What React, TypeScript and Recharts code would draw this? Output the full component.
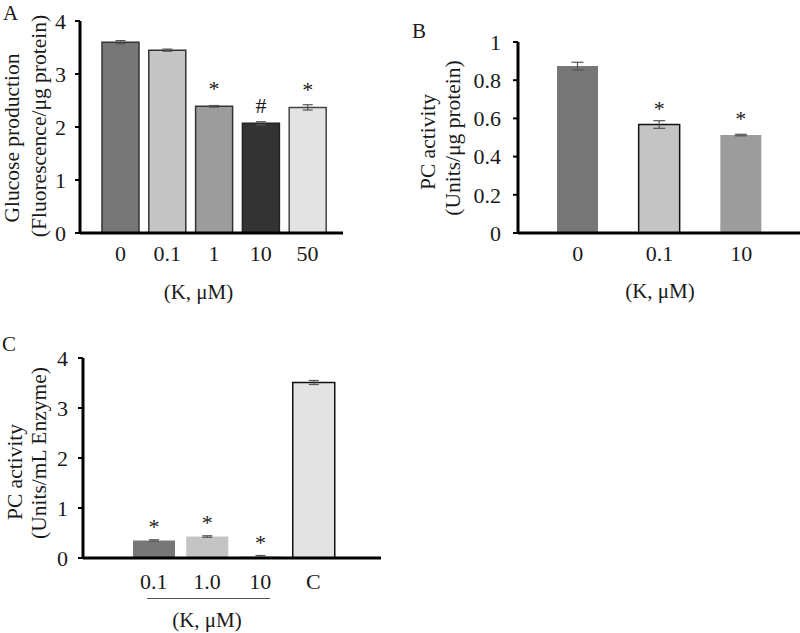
import React from 'react';
import { BarChart, Bar, XAxis, YAxis, ErrorBar, Cell, LabelList, Label } from 'recharts';

// panel A: glucose production
const glucoseDoses = ['0', '0.1', '1', '10', '50'];
const glucoseValues = [3.6, 3.45, 2.39, 2.07, 2.37];
const glucoseErrors = [0.03, 0.02, 0.015, 0.03, 0.05];
const glucoseMarks = ['', '', '*', '#', '*'];

// panel B: PC activity per protein
const pcDoses = ['0', '0.1', '10'];
const pcValues = [0.874, 0.568, 0.513];
const pcErrors = [0.02, 0.02, 0.004];
const pcMarks = ['', '*', '*'];

// panel C: PC activity per mL enzyme
const enzymeDoses = ['0.1', '1.0', '10', 'C'];
const enzymeValues = [0.35, 0.43, 0.03, 3.51];
const enzymeErrors = [0.015, 0.015, 0.02, 0.04];
const enzymeMarks = ['*', '*', '*', ''];

const FONT = '"Liberation Serif", "Times New Roman", serif';
const INK = '#1a1a1a';

const build = (cats: string[], vals: number[], errs: number[], marks: string[]) =>
  cats.map((c, i) => ({ name: c, value: vals[i], err: errs[i], mark: marks[i] }));

const dataA = build(glucoseDoses, glucoseValues, glucoseErrors, glucoseMarks);
const dataB = build(pcDoses, pcValues, pcErrors, pcMarks);
const dataC = build(enzymeDoses, enzymeValues, enzymeErrors, enzymeMarks);

const fillsA = ['#777777', '#c4c4c4', '#9c9c9c', '#333333', '#e3e3e3'];
const strokesA = ['#333', '#333', '#333', '#222', '#444'];
const fillsB = ['#777777', '#c4c4c4', '#9c9c9c'];
const strokesB = ['none', '#111', 'none'];
const fillsC = ['#777777', '#c4c4c4', '#b0b0b0', '#e3e3e3'];
const strokesC = ['none', 'none', 'none', '#111'];

const tickStyle = { fontFamily: FONT, fontSize: 22, fill: INK };
const markStyle = { fontFamily: FONT, fontSize: 22, fill: INK };

// two rotated lines for the y axis title
const yTitle = (l1: string, l2: string, x1: number, y1: number, x2: number, y2: number) => () =>
  (
    <g fontFamily={FONT} fontSize={21.5} fill={INK}>
      <text x={x1} y={y1} transform={`rotate(-90 ${x1} ${y1})`} textAnchor="middle" dominantBaseline="central">
        {l1}
      </text>
      <text x={x2} y={y2} transform={`rotate(-90 ${x2} ${y2})`} textAnchor="middle" dominantBaseline="central">
        {l2}
      </text>
    </g>
  );

const xTitle = (dx: number, dy: number) => (props: any) => {
  const vb = props.viewBox || {};
  return (
    <text
      x={vb.x + vb.width / 2 + dx}
      y={vb.y + dy}
      textAnchor="middle"
      dominantBaseline="central"
      fontFamily={FONT}
      fontSize={21}
      fill={INK}
    >
      (K, μM)
    </text>
  );
};

const letter = (t: string, left: number, top: number) => (
  <div style={{ position: 'absolute', left, top, fontFamily: FONT, fontSize: 21, color: INK, lineHeight: '21px' }}>
    {t}
  </div>
);

export default function App() {
  return (
    <div style={{ position: 'absolute', left: 0, top: 0, width: 800, height: 633, background: '#fff', overflow: 'hidden' }}>
      {letter('A', 3, 3)}
      {letter('B', 412, 21)}
      {letter('C', 2, 334)}

      <div style={{ position: 'absolute', left: 0, top: 0 }}>
        <BarChart width={360} height={320} data={dataA} margin={{ top: 21, right: 17, left: 0, bottom: 57 }}>
          <XAxis
            dataKey="name"
            axisLine={{ stroke: '#000', strokeWidth: 3 }}
            tickLine={false}
            tickSize={0}
            tickMargin={12}
            tick={tickStyle}
            height={30}
            padding={{ left: 17, right: 12 }}
          >
            <Label content={xTitle(-13, 59)} />
          </XAxis>
          <YAxis
            domain={[0, 4]}
            ticks={[0, 1, 2, 3, 4]}
            width={80}
            axisLine={{ stroke: '#000', strokeWidth: 3 }}
            tickLine={{ stroke: '#000', strokeWidth: 2 }}
            tickSize={5}
            tickMargin={9}
            tick={tickStyle}
          >
            <Label content={yTitle('Glucose production', '(Fluorescence/μg protein)', 12, 138, 39, 126)} />
          </YAxis>
          <Bar dataKey="value" barSize={37} isAnimationActive={false} strokeWidth={1.5}>
            {dataA.map((d, i) => (
              <Cell key={d.name} fill={fillsA[i]} stroke={strokesA[i]} />
            ))}
            <ErrorBar dataKey="err" width={5} stroke="#555" strokeWidth={1.2} />
            <LabelList dataKey="mark" position="top" offset={10} style={markStyle} />
          </Bar>
        </BarChart>
      </div>

      <div style={{ position: 'absolute', left: 400, top: 0 }}>
        <BarChart width={400} height={320} data={dataB} margin={{ top: 42, right: 0, left: 0, bottom: 57 }}>
          <XAxis
            dataKey="name"
            axisLine={{ stroke: '#000', strokeWidth: 3 }}
            tickLine={false}
            tickSize={0}
            tickMargin={12}
            tick={tickStyle}
            height={30}
            padding={{ left: 19, right: 18 }}
          >
            <Label content={xTitle(1, 58)} />
          </XAxis>
          <YAxis
            domain={[0, 1]}
            ticks={[0, 0.2, 0.4, 0.6, 0.8, 1]}
            width={118}
            axisLine={{ stroke: '#000', strokeWidth: 3 }}
            tickLine={{ stroke: '#000', strokeWidth: 2 }}
            tickSize={5}
            tickMargin={12}
            tick={tickStyle}
          >
            <Label content={yTitle('PC activity', '(Units/μg protein)', 28, 142, 53, 138)} />
          </YAxis>
          <Bar dataKey="value" barSize={41} isAnimationActive={false} strokeWidth={1.5}>
            {dataB.map((d, i) => (
              <Cell key={d.name} fill={fillsB[i]} stroke={strokesB[i]} />
            ))}
            <ErrorBar dataKey="err" width={6} stroke="#555" strokeWidth={1.2} />
            <LabelList dataKey="mark" position="top" offset={9} style={markStyle} />
          </Bar>
        </BarChart>
      </div>

      <div style={{ position: 'absolute', left: 0, top: 330 }}>
        <BarChart width={400} height={303} data={dataC} margin={{ top: 28, right: 19, left: 0, bottom: 45 }}>
          <XAxis
            dataKey="name"
            axisLine={{ stroke: '#000', strokeWidth: 3 }}
            tickLine={false}
            tickSize={0}
            tickMargin={15}
            tick={tickStyle}
            height={30}
            padding={{ left: 44, right: 41 }}
          >
            <Label content={xTitle(-25, 62)} />
          </XAxis>
          <YAxis
            domain={[0, 4]}
            ticks={[0, 1, 2, 3, 4]}
            width={83}
            axisLine={{ stroke: '#000', strokeWidth: 3 }}
            tickLine={{ stroke: '#000', strokeWidth: 2 }}
            tickSize={5}
            tickMargin={10}
            tick={tickStyle}
          >
            <Label content={yTitle('PC activity', '(Units/mL Enzyme)', 15, 142, 39, 123)} />
          </YAxis>
          <Bar dataKey="value" barSize={42} isAnimationActive={false} strokeWidth={1.5}>
            {dataC.map((d, i) => (
              <Cell key={d.name} fill={fillsC[i]} stroke={strokesC[i]} />
            ))}
            <ErrorBar dataKey="err" width={5} stroke="#555" strokeWidth={1.2} />
            <LabelList dataKey="mark" position="top" offset={7} style={markStyle} />
          </Bar>
        </BarChart>
      </div>

      <div style={{ position: 'absolute', left: 147, top: 598, width: 123, borderTop: '1px solid #555' }} />
    </div>
  );
}
